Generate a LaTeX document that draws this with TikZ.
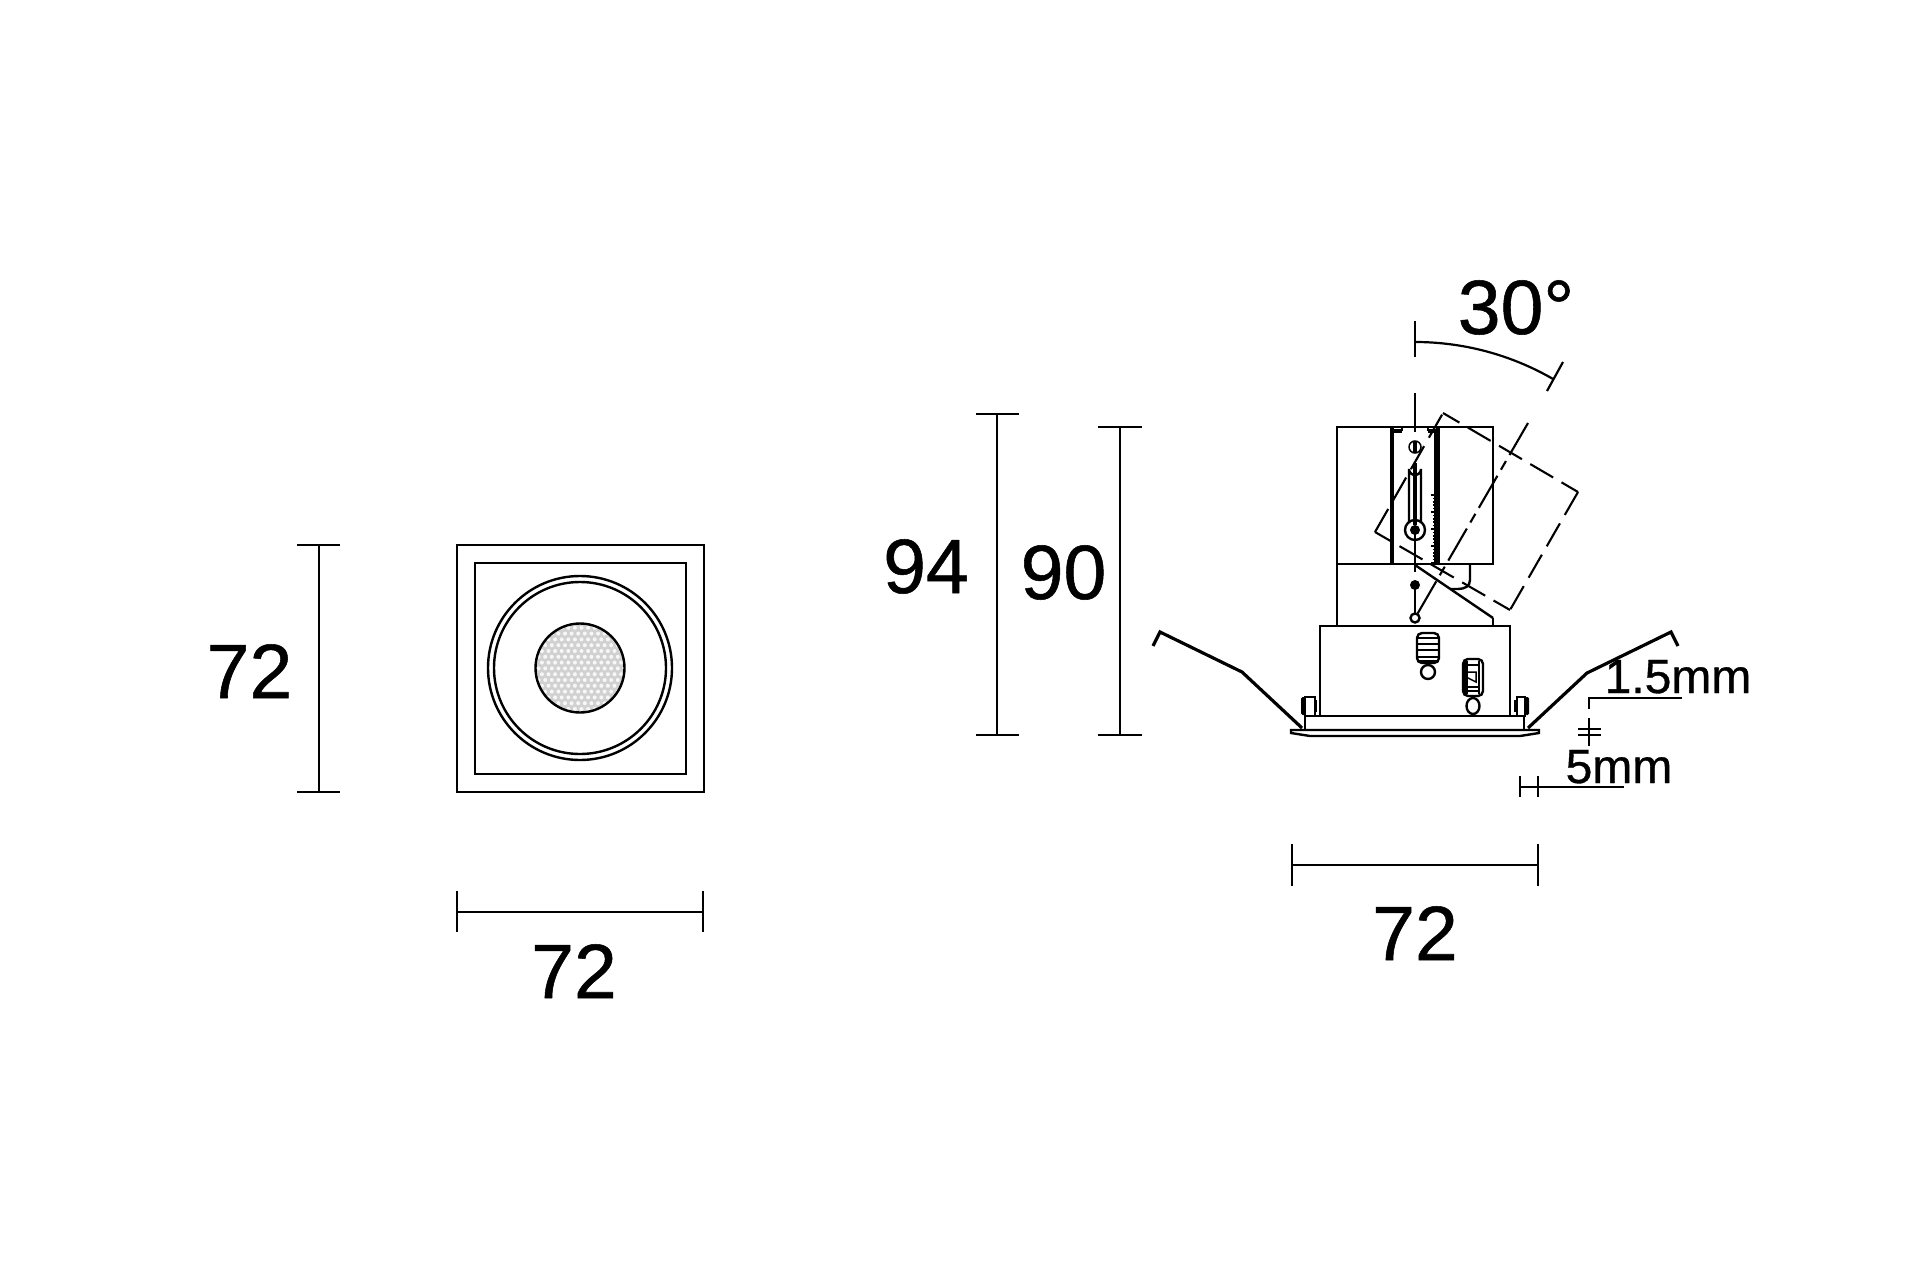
\documentclass[tikz,border=0pt]{standalone}
\usepackage{fontspec}
\setmainfont[FakeBold=0.7]{Liberation Sans}
\usetikzlibrary{calc}
\tikzset{
  x=1pt,y=-1pt,
  thinln/.style={line width=1.5pt,black},
  dimln/.style={line width=2.2pt,black},
  bodyln/.style={line width=2.4pt,black},
  heavyln/.style={line width=3.4pt,black},
  clipln/.style={line width=3.2pt,black,line join=miter},
  bigtxt/.style={anchor=base,inner sep=0pt,font=\fontsize{77}{80}\selectfont},
  smalltxt/.style={anchor=base,inner sep=0pt,font=\fontsize{48}{50}\selectfont},
  dashrect/.style={line width=2.1pt,black,dash pattern=on 26.5pt off 9.7pt},
  axisln/.style={line width=2.1pt,black,dash pattern=on 37pt off 7pt on 10pt off 7pt},
}
\begin{document}
\begin{tikzpicture}
\useasboundingbox (0,0) rectangle (1920,1263);
\fill[white] (0,0) rectangle (1920,1263);
% --- front view
\draw[bodyln] (457,545) rectangle (704,792);
\draw[bodyln] (475,563) rectangle (686,774);
\draw[bodyln] (580,668) circle[radius=92];
\draw[bodyln] (580,668) circle[radius=86];
\begin{scope}
\clip (580,668) circle[radius=44.5];
\fill[black!18] (535,623) rectangle (625,713);
\foreach \r in {0,...,15}{
  \foreach \c in {0,...,15}{
    \pgfmathsetmacro{\px}{532+\c*6.6+mod(\r,2)*3.3}
    \pgfmathsetmacro{\py}{622+\r*5.8}
    \fill[black!3] (\px,\py) circle[radius=2];
  }
}
\end{scope}
\draw[bodyln] (580,668) circle[radius=44.5];
% --- front view dimensions
\draw[dimln] (319,545) -- (319,792);
\draw[dimln] (297,545) -- (340,545);
\draw[dimln] (297,792) -- (340,792);
\node[bigtxt] (dimA) at (249.5,698) {72};
\draw[dimln] (457,912) -- (703,912);
\draw[dimln] (457,891) -- (457,932);
\draw[dimln] (703,891) -- (703,932);
\node[bigtxt] (dimB) at (574,998) {72};
% --- side view: housing
\draw[bodyln] (1337,427) rectangle (1493,564);
\draw[bodyln] (1337,564) -- (1337,626);
\draw[bodyln] (1493,618) -- (1493,626);
\draw[bodyln] (1415,565) -- (1493,618);
\draw[bodyln] (1470,564) -- (1470,580) .. controls (1470,586) and (1465,589) .. (1458,589) -- (1450,589);
\draw[heavyln] (1392,427) -- (1392,564);
\draw[heavyln] (1438,427) -- (1438,564);
\draw[thinln] (1435,432) -- (1435,495);
\draw[heavyln] (1392,431) -- (1402,431);
\draw[heavyln] (1428,431) -- (1438,431);
\draw[thinln] (1402,427) -- (1402,431);
\draw[thinln] (1428,427) -- (1428,431);
% slot and screws
\draw[thinln] (1415,447) circle[radius=6];
\draw[heavyln] (1415,441) -- (1415,453);
\draw[bodyln] (1409,523) -- (1409,469) arc[start angle=180,end angle=0,radius=6] -- (1421,523);
\draw[heavyln] (1415,463) -- (1415,525);
\draw[bodyln] (1415,530) circle[radius=10];
\fill[black] (1415,530) circle[radius=5];
\draw[bodyln] (1415,530) -- (1415,563);
\draw[bodyln] (1415,565) -- (1415,572);
\fill[black] (1415,585) circle[radius=5];
\draw[bodyln] (1415,585) -- (1415,614);
\draw[bodyln] (1415,618) circle[radius=4.5];
% ruler
\draw[bodyln] (1435,495) -- (1435,564);
\foreach \k in {0,...,20}{
  \pgfmathsetmacro{\ty}{495+\k*3.4}
  \pgfmathsetmacro{\tx}{ifthenelse(mod(\k,5)==0,1431,1432.5)}
  \draw[line width=1.7pt] (\tx,\ty) -- (1436,\ty);
}
% tilted outline
\draw[dashrect,dash phase=7.5pt] (1443,413) -- (1578,492);
\draw[dashrect] (1578,492) -- (1510,610);
\draw[dashrect,dash phase=7.5pt] (1510,610) -- (1375,532);
\draw[dashrect] (1375,532) -- (1443,413);
\draw[axisln] (1528,423) -- (1415,618);
% axis
\draw[dimln] (1415,393) -- (1415,432);
% base box
\draw[bodyln] (1320,626) rectangle (1510,716);
\draw[bodyln] (1305,716) -- (1524,716);
\draw[bodyln] (1305,716) -- (1305,729);
\draw[bodyln] (1524,716) -- (1524,729);
\draw[bodyln] (1291,730) -- (1539,730) -- (1539,733) -- (1520,736) -- (1310,736) -- (1291,733) -- cycle;
% latches
\draw[bodyln,rounded corners=5pt] (1417,633) rectangle (1439,663);
\draw[line width=2.6pt] (1417,638) -- (1439,638);
\foreach \ly in {644,650,657,661}{ \draw[thinln] (1417,\ly) -- (1439,\ly); }
\draw[bodyln] (1428,672) circle[radius=7];
\draw[bodyln,rounded corners=5pt] (1463,659) rectangle (1483,696);
\draw[heavyln] (1466,661) -- (1466,694);
\draw[thinln] (1479,661) -- (1479,694);
\draw[thinln] (1466,665) -- (1479,665);
\draw[thinln] (1466,672) -- (1476,672) -- (1476,682) -- (1466,677);
\draw[thinln] (1466,687) -- (1479,687);
\draw[thinln] (1466,691) -- (1479,691);
\draw[bodyln] (1473,706) ellipse[x radius=6.5,y radius=8];
% clips
\draw[thinln] (1305,697) rectangle (1315,716);
\fill[black,rounded corners=1.5pt] (1301,697) rectangle (1305,715);
\draw[bodyln] (1316,700) -- (1316,712);
\draw[thinln] (1517,697) rectangle (1525,716);
\fill[black,rounded corners=1.5pt] (1525,697) rectangle (1529,715);
\draw[bodyln] (1515,700) -- (1515,712);
% springs
\draw[clipln] (1153,646) -- (1160,632) -- (1242,672) -- (1302,728);
\draw[clipln] (1528,728) -- (1587,673) -- (1671,632) -- (1678,646);
% side dims
\draw[dimln] (997,414) -- (997,735);
\draw[dimln] (976,414) -- (1019,414);
\draw[dimln] (976,735) -- (1019,735);
\node[bigtxt] (dimC) at (926,593) {94};
\draw[dimln] (1120,427) -- (1120,735);
\draw[dimln] (1098,427) -- (1142,427);
\draw[dimln] (1098,735) -- (1142,735);
\node[bigtxt] (dimD) at (1063.5,599) {90};
\draw[dimln] (1292,865) -- (1538,865);
\draw[dimln] (1292,844) -- (1292,886);
\draw[dimln] (1538,844) -- (1538,886);
\node[bigtxt] (dimE) at (1415,960) {72};
% angle
\draw[dimln] (1415,321) -- (1415,357);
\draw[dimln] (1415,342) arc[start angle=-90,end angle=-60,radius=276];
\draw[dimln] (1563,362) -- (1547,391);
\node[bigtxt] (dimF) at (1516,334) {30°};
% small dims
\draw[dimln] (1682,698) -- (1589,698) -- (1589,709);
\draw[dimln] (1589,718) -- (1589,746);
\draw[thinln] (1578,729) -- (1601,729);
\draw[thinln] (1578,735) -- (1601,735);
\node[smalltxt] (dimG) at (1678,693) {1.5mm};
\draw[dimln] (1520,787) -- (1624,787);
\draw[dimln] (1520,776) -- (1520,797);
\draw[dimln] (1538,776) -- (1538,797);
\node[smalltxt] (dimH) at (1619,783) {5mm};
\end{tikzpicture}
\end{document}
